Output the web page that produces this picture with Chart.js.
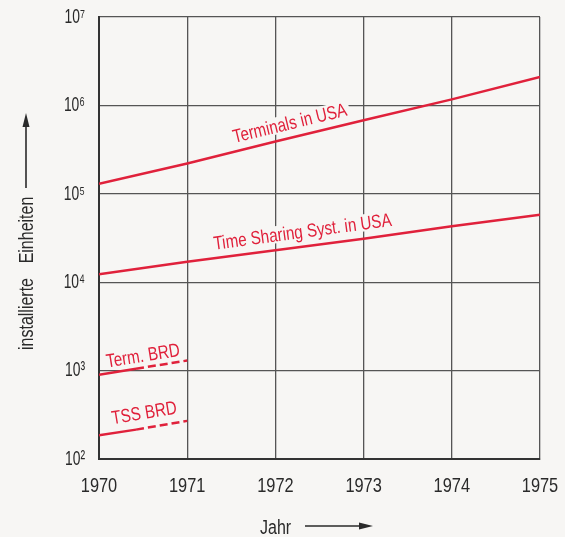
<!DOCTYPE html>
<html>
<head>
<meta charset="utf-8">
<script src="https://cdn.jsdelivr.net/npm/chart.js@4"></script>
<style>
  html, body { margin: 0; padding: 0; background: #f7f6f4; }
  #wrap { width: 565px; height: 537px; }
</style>
</head>
<body>
<div id="wrap"><canvas id="grafico" width="565" height="537"></canvas></div>
<script>
const years = [1970, 1971, 1972, 1973, 1974, 1975];
const terminalsUSA = [130000, 220000, 390000, 680000, 1170000, 2100000];
const timeSharingUSA = [12300, 17000, 23000, 31000, 43000, 58000];
const brdYears = [1970, 1970.42, 1971];
const terminalsBRD = [900, 1050, 1300];
const tssBRD = [185, 215, 270];
const yTicks = [1e2, 1e3, 1e4, 1e5, 1e6, 1e7];
const seriesNames = ['Terminals in USA', 'Time Sharing Syst. in USA', 'Term. BRD', 'TSS BRD'];
const xTitle = 'Jahr';
const yTitle = ['installierte', 'Einheiten'];

const face = "'Liberation Sans', Arial, sans-serif";
const red = '#e0213b';
const ink = '#2a2a2a';
const paper = '#f7f6f4';
const sup = { 2: '²', 3: '³', 4: '⁴', 5: '⁵', 6: '⁶', 7: '⁷' };

function points(xs, ys) {
    return xs.map((x, i) => ({ x: x, y: ys[i] }));
}

// the old print uses a condensed face: draw text squeezed sideways
function narrowText(ctx, text, x, y, font, sx, align) {
    ctx.save();
    ctx.translate(x, y);
    ctx.scale(sx, 1);
    ctx.font = font + ' ' + face;
    ctx.textAlign = align;
    ctx.fillText(text, 0, 0);
    ctx.restore();
}

// where each series name sits: year of the label centre and distance above the line
const labelPlaces = [
    { x: 1972.2, off: 14 },
    { x: 1972.33, off: 15 },
    { x: 1970.52, off: 12 },
    { x: 1970.54, off: 15 }
];

const paperPlugin = {
    id: 'paper',
    beforeDraw(chart) {
        const ctx = chart.ctx;
        ctx.save();
        ctx.fillStyle = paper;
        ctx.fillRect(0, 0, chart.width, chart.height);
        ctx.restore();
    }
};

const lineNames = {
    id: 'lineNames',
    afterDatasetsDraw(chart) {
        const ctx = chart.ctx;
        const xs = chart.scales.x;
        chart.data.datasets.forEach((ds, i) => {
            const pts = chart.getDatasetMeta(i).data;
            const a = pts[0], b = pts[pts.length - 1];
            const angle = Math.atan2(b.y - a.y, b.x - a.x);
            const px = xs.getPixelForValue(labelPlaces[i].x);
            const py = a.y + (b.y - a.y) * (px - a.x) / (b.x - a.x);
            const off = labelPlaces[i].off;
            ctx.save();
            ctx.translate(px + Math.sin(angle) * off, py - Math.cos(angle) * off);
            ctx.rotate(angle);
            ctx.font = '19px ' + face;
            const w = ctx.measureText(ds.label).width * 0.8;
            ctx.fillStyle = paper;
            ctx.fillRect(-w / 2 - 3, -9, w + 6, 17);
            ctx.fillStyle = red;
            ctx.textBaseline = 'middle';
            narrowText(ctx, ds.label, 0, 1, '19px', 0.8, 'center');
            ctx.restore();
        });
    }
};

const axisText = {
    id: 'axisText',
    afterDraw(chart) {
        const ctx = chart.ctx;
        const area = chart.chartArea;
        const xs = chart.scales.x, ys = chart.scales.y;
        ctx.save();
        ctx.fillStyle = ink;
        ctx.strokeStyle = ink;

        ctx.textBaseline = 'alphabetic';
        xs.ticks.forEach(t => {
            narrowText(ctx, String(t.value), xs.getPixelForValue(t.value), area.bottom + 33, '21px', 0.78, 'center');
        });
        ctx.textBaseline = 'middle';
        ys.ticks.forEach(t => {
            const e = Math.round(Math.log10(t.value));
            narrowText(ctx, '10' + sup[e], area.left - 14, ys.getPixelForValue(t.value), '21px', 0.66, 'right');
        });

        // x title with arrow
        ctx.textBaseline = 'alphabetic';
        narrowText(ctx, xTitle, 260, 534, '20px', 0.8, 'left');
        ctx.lineWidth = 1.6;
        ctx.beginPath();
        ctx.moveTo(305, 526);
        ctx.lineTo(361, 526);
        ctx.stroke();
        ctx.beginPath();
        ctx.moveTo(373, 526);
        ctx.lineTo(359, 522.5);
        ctx.lineTo(359, 529.5);
        ctx.closePath();
        ctx.fill();

        // y title with arrow
        ctx.save();
        ctx.translate(33, 0);
        ctx.rotate(-Math.PI / 2);
        narrowText(ctx, yTitle[0], -314, 0, '20px', 0.8, 'center');
        narrowText(ctx, yTitle[1], -230, 0, '20px', 0.8, 'center');
        ctx.restore();
        ctx.beginPath();
        ctx.moveTo(26, 188);
        ctx.lineTo(26, 125);
        ctx.stroke();
        ctx.beginPath();
        ctx.moveTo(26, 113);
        ctx.lineTo(22.5, 127);
        ctx.lineTo(29.5, 127);
        ctx.closePath();
        ctx.fill();
        ctx.restore();
    }
};

const ctx = document.getElementById('grafico').getContext('2d');
new Chart(ctx, {
    type: 'line',
    data: {
        datasets: [
            { label: seriesNames[0], data: points(years, terminalsUSA) },
            { label: seriesNames[1], data: points(years, timeSharingUSA) },
            {
                label: seriesNames[2], data: points(brdYears, terminalsBRD),
                segment: { borderDash: c => c.p0DataIndex >= 1 ? [8, 4] : undefined }
            },
            {
                label: seriesNames[3], data: points(brdYears, tssBRD),
                segment: { borderDash: c => c.p0DataIndex >= 1 ? [8, 4] : undefined }
            }
        ].map(d => Object.assign({
            borderColor: red,
            borderWidth: 2.5,
            pointRadius: 0,
            tension: 0,
            fill: false
        }, d))
    },
    options: {
        responsive: false,
        animation: false,
        layout: { padding: { top: 17, right: 25, left: 0, bottom: 0 } },
        plugins: {
            legend: { display: false },
            tooltip: { enabled: false }
        },
        scales: {
            x: {
                type: 'linear',
                min: 1970,
                max: 1975,
                afterFit: s => { s.height = 78; },
                grid: { color: '#555', lineWidth: 1.3, drawTicks: false },
                border: { color: '#333', width: 2 },
                ticks: { stepSize: 1, display: false }
            },
            y: {
                type: 'logarithmic',
                min: 100,
                max: 1e7,
                afterFit: s => { s.width = 99; },
                afterBuildTicks: s => { s.ticks = yTicks.map(v => ({ value: v })); },
                grid: { color: '#555', lineWidth: 1.3, drawTicks: false },
                border: { color: '#333', width: 2 },
                ticks: { display: false }
            }
        }
    },
    plugins: [paperPlugin, lineNames, axisText]
});
</script>
</body>
</html>
